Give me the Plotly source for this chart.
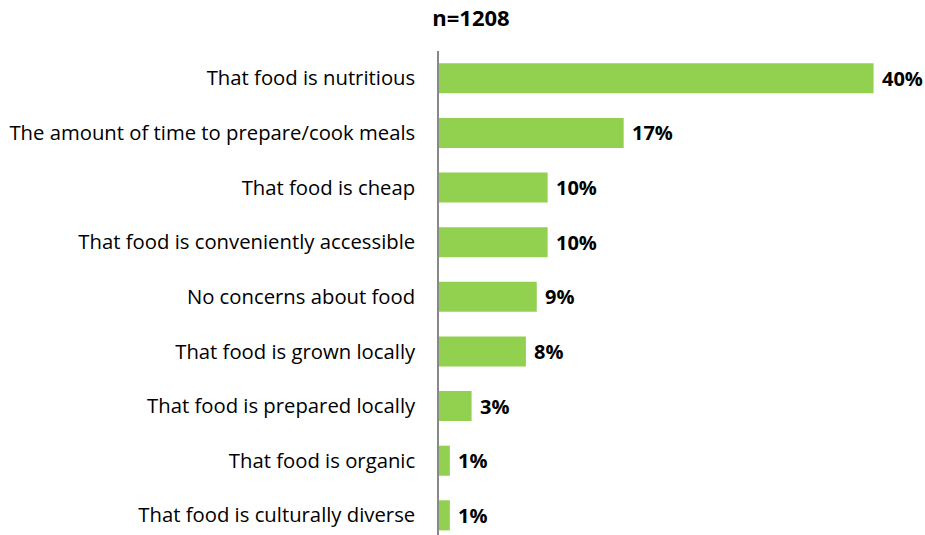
import plotly.graph_objects as go

categories = [
    "That food is nutritious",
    "The amount of time to prepare/cook meals",
    "That food is cheap",
    "That food is conveniently accessible",
    "No concerns about food",
    "That food is grown locally",
    "That food is prepared locally",
    "That food is organic",
    "That food is culturally diverse",
]
values = [40, 17, 10, 10, 9, 8, 3, 1, 1]
title_text = "n=1208"

FONT = "Open Sans"
GREEN = "#92D050"

fig = go.Figure(
    go.Bar(
        x=values,
        y=categories,
        orientation="h",
        marker=dict(color=GREEN, line=dict(width=0)),
        hoverinfo="skip",
    )
)

for cat, val in zip(categories, values):
    fig.add_annotation(
        x=val, y=cat, xref="x", yref="y",
        text=f"<b>{val}%</b>", showarrow=False,
        xanchor="left", xshift=6,
        font=dict(family=FONT, size=20, color="#000000"),
    )

fig.update_layout(
    width=925, height=535,
    margin=dict(l=439, r=8, t=51, b=0),
    paper_bgcolor="white", plot_bgcolor="white",
    bargap=0.45,
    showlegend=False,
    title=dict(
        text=f"<b>{title_text}</b>", x=471 / 925, xanchor="center",
        xref="container", y=1 - 18 / 535, yanchor="middle",
        font=dict(family=FONT, size=22, color="#000000"),
    ),
)
fig.update_xaxes(range=[0, 44], visible=False, fixedrange=True)
fig.update_yaxes(
    categoryorder="array", categoryarray=categories,
    range=[8.36, -0.5],
    showline=True, linecolor="#888888", linewidth=1.5,
    showgrid=False, zeroline=False, ticks="",
    ticklabelstandoff=18,
    tickfont=dict(family=FONT, size=20.3, color="#000000"),
)

fig.write_html("out.html")
